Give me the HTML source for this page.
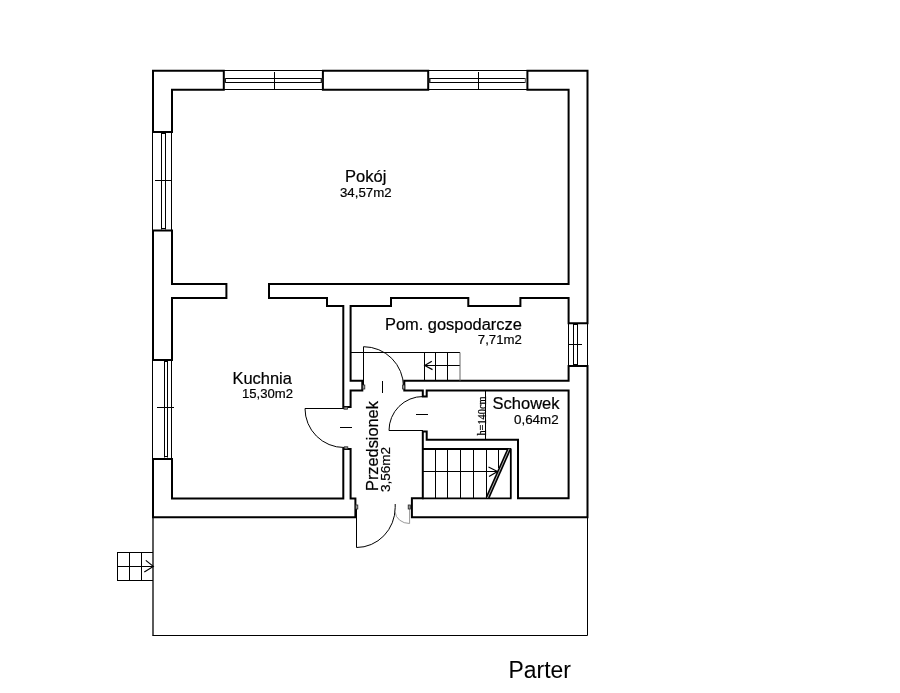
<!DOCTYPE html>
<html><head><meta charset="utf-8">
<style>
html,body{margin:0;padding:0;background:#fff;width:900px;height:693px;overflow:hidden}
svg{display:block}
text{font-family:"Liberation Sans",sans-serif;fill:#000;-webkit-font-smoothing:antialiased}
.txt{will-change:transform}
.txt text{stroke:#000;stroke-width:0.2}
.w{fill:none;stroke:#000;stroke-width:2;stroke-linejoin:miter;stroke-linecap:square}
.t{fill:none;stroke:#000;stroke-width:1}
</style></head>
<body>
<svg width="900" height="693" viewBox="0 0 900 693">
<!-- thick walls -->
<g class="w">
<path d="M223.8,89.8 V70.7 H153 V131.9 H172 V89.8 Z"/>
<path d="M322.9,70.7 H428.2 V89.8 H322.9 Z"/>
<path d="M527.4,70.7 H587.5 V323.2 H568.6 V298 H520.4 V306 H468.3 V298 H391 V306 H350.6 V380.8 H362.3 V390.5 H350.6 V407 H343.3 V306 H327 V298 H269 V284 H568.6 V89.8 H527.4 Z"/>
<path d="M172,230.6 H153 V359.9 H172 V298 H226.4 V284 H172 Z"/>
<path d="M172,458.9 H153 V517.3 H355.4 V498.4 H350.6 V449 H343.3 V498.4 H172 Z"/>
<path d="M411.9,517.3 H587.5 V366 H568.6 V380.8 H404.3 V390.5 H422.8 V396.5 H426.7 V390.5 H568.6 V498.3 H518 V439.8 H426.7 V431.5 H422.8 V498.3 H411.9 Z"/>
</g>
<!-- windows -->
<g class="t">
<path d="M223.8,70.5 H322.9 M223.8,78.5 H322.9 M223.8,82.5 H322.9 M223.8,89.5 H322.9 M274.5,72 V89"/>
<path d="M428.2,70.5 H527.4 M428.2,78.5 H527.4 M428.2,82.5 H527.4 M428.2,89.5 H527.4 M478.5,72 V89"/>
<path d="M152.5,131.9 V230.6 M161.5,132.5 V229.5 M165.5,132.5 V229.5 M171.5,131.9 V230.6 M155,180.5 H172 M161.5,133.5 H165.5 M161.5,228.5 H165.5"/>
<path d="M152.5,359.9 V458.9 M164.5,360.5 V457.5 M167.5,360.5 V457.5 M171.5,359.9 V458.9 M157,407.5 H174 M164.5,361.5 H167.5 M164.5,456.5 H167.5"/>
<path d="M568.5,323 V366 M573.5,324 V365 M577.5,324 V365 M587.5,323 V366 M568.5,344.5 H582 M573.5,324.5 H577.5 M573.5,364.5 H577.5"/>
</g>
<g fill="#222">
<rect x="224" y="78" width="2" height="5"/>
<rect x="320.7" y="78" width="2" height="5"/>
<rect x="428.5" y="78" width="2" height="5"/>
<rect x="524.8" y="78" width="2" height="5" fill="#777"/>
</g>
<!-- stairs gospodarcze -->
<g class="t">
<path d="M351,352.5 H460 M424.5,352.5 V380.8 M435.5,352.5 V380.8 M447.5,352.5 V380.8 M424.5,365.5 H460"/>
<path d="M460,352.5 V380.8" stroke="#666"/>
<path d="M431.8,361.3 L424.8,365.5 L432.5,369.6" stroke-width="1.2"/>
</g>
<!-- main stairs -->
<g class="t">
<path d="M422.5,449 V498.3 M435.5,449 V498.3 M447.5,449 V498.3 M460.5,449 V498.3 M473.5,449 V498.3 M486.5,449 V498.3 M498.5,449 V468 M422.5,471.5 H497.4"/>
<path d="M488.5,467 L497.5,471.5 L489,476.5" stroke-width="1.2"/>
<path d="M485.5,391 V440"/>
</g>
<path d="M422,449 H511" fill="none" stroke="#000" stroke-width="1.8"/>
<path d="M422,498.3 H511.6 M510.8,448.5 V498.3" fill="none" stroke="#000" stroke-width="1.8"/>
<path d="M487.5,497.9 L509.2,448.8" fill="none" stroke="#000" stroke-width="4"/>
<path d="M487.5,497.9 L509.2,448.8" fill="none" stroke="#aaa" stroke-width="1"/>
<!-- doors -->
<g class="t">
<path d="M363.5,387 V346.7 A40,40 0 0 1 403.5,386.7"/>
<path d="M305,408.5 H344 M305,408.5 A39,39 0 0 0 344,447.5"/>
<path d="M423,430.5 H389 A34,34 0 0 1 423,396.5"/>
<path d="M356.5,506 V547.5 A38.7,40 0 0 0 395.2,507.5 V504"/>
<path d="M382.5,381 V393 M340,427.5 H352 M416,414.5 H428"/>
</g>
<path d="M395.2,512 A14.4,12 0 0 0 409.6,523.5 V506" fill="none" stroke="#999" stroke-width="1"/>
<g fill="#999" stroke="#222" stroke-width="0.8">
<rect x="362.6" y="385" width="2.2" height="4"/>
<rect x="402.6" y="385" width="2.2" height="4"/>
<rect x="355.6" y="505" width="2.2" height="4"/>
<rect x="408.2" y="505" width="2.2" height="4"/>
<rect x="344" y="407" width="3.5" height="2.2"/>
<rect x="344.3" y="446.8" width="3.5" height="2.2"/>
</g>
<!-- terrace -->
<path d="M153,518 V635.5" fill="none" stroke="#000" stroke-width="1.3"/>
<path d="M152.4,635.5 H587.5 V517" fill="none" stroke="#000" stroke-width="1"/>
<g class="t">
<path d="M117.5,552.5 H153 M117.5,580.5 H153 M117.5,552 V581 M129.5,552.5 V580.5 M141.5,552.5 V580.5 M117.5,566.5 H153"/>
<path d="M145.8,560.4 L153.3,566.4 L144.3,572" stroke-width="1.2"/>
</g>
<!-- text -->
<g class="txt">
<text transform="translate(345,181.5) scale(1.035,1)" font-size="16">Pokój</text>
<text transform="translate(340,196.8) scale(1.02,1)" font-size="13">34,57m2</text>
<text transform="translate(232.5,383.8) scale(1.027,1)" font-size="16">Kuchnia</text>
<text transform="translate(242,397.9) scale(1.01,1)" font-size="13">15,30m2</text>
<text transform="translate(385,329.8) scale(1.025,1)" font-size="16">Pom. gospodarcze</text>
<text transform="translate(477.8,343.7) scale(1.017,1)" font-size="13">7,71m2</text>
<text transform="translate(492.5,408.8) scale(1.033,1)" font-size="16">Schowek</text>
<text transform="translate(514,424) scale(1.03,1)" font-size="13">0,64m2</text>
<text transform="translate(377.7,491) rotate(-90) scale(1.022,1)" font-size="16">Przedsionek</text>
<text transform="translate(390,492) rotate(-90) scale(1.04,1)" font-size="13">3,56m2</text>
<text transform="translate(485.6,435.6) rotate(-90) scale(0.9,1)" font-size="11.5" style="font-family:'Liberation Serif',serif;stroke:#000;stroke-width:0.25">h=140cm</text>
<text transform="translate(508.6,677.8) scale(0.975,1)" font-size="23.5" style="stroke-width:0.05">Parter</text>
</g>
</svg>
</body></html>
